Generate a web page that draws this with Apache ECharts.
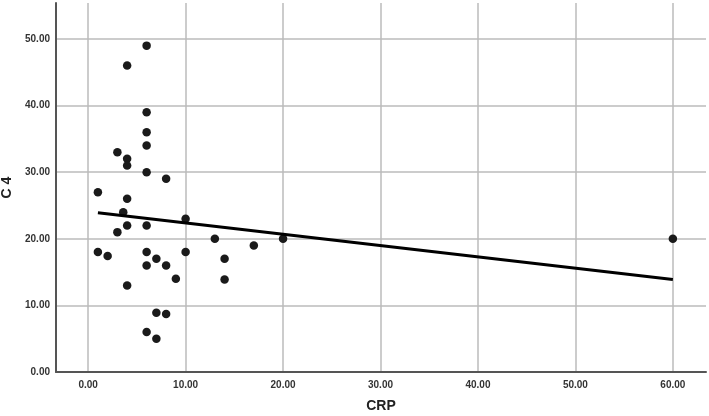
<!DOCTYPE html>
<html>
<head>
<meta charset="utf-8">
<script src="https://cdn.jsdelivr.net/npm/echarts@6/dist/echarts.min.js"></script>
<style>
  html, body { margin: 0; padding: 0; background: #fff; }
  #chart { width: 709px; height: 416px; }
</style>
</head>
<body>
<div id="chart"></div>
<script>
// CRP vs C4 values
const crp = [6, 4, 6, 6, 6, 3, 4, 4, 6, 8, 1, 4, 3.6, 10, 4, 6, 3, 13, 17, 20,
  1, 2, 6, 7, 10, 14, 6, 8, 9, 14, 4, 7, 8, 6, 7, 60]
const c4 = [49, 46, 39, 36, 34, 33, 32, 31, 30, 29, 27, 26, 24, 23, 22, 22, 21, 20, 19, 20,
  18, 17.4, 18, 17, 18, 17, 16, 16, 14, 13.9, 13, 8.9, 8.7, 6, 5, 20]
// fitted line end points
const fitX = [1, 60]
const fitY = [23.9, 13.9]
const xTicks = [0, 10, 20, 30, 40, 50, 60]
const yTicks = [0, 10, 20, 30, 40, 50]

const labelFont = '"Liberation Sans Narrow", "Liberation Sans", Arial, sans-serif'

window.onload = function () {
  const chart = echarts.init(document.getElementById('chart'))
  const points = crp.map((x, i) => [x, c4[i]])
  const fit = fitX.map((x, i) => [x, fitY[i]])

  chart.setOption({
    animation: false,
    backgroundColor: '#fff',
    grid: { left: 56, right: 3, top: 3, bottom: 44, outerBoundsMode: 'none', containLabel: false },
    xAxis: {
      type: 'value',
      min: -3.3,
      max: 63.4,
      name: 'CRP',
      nameLocation: 'middle',
      nameGap: 27,
      nameTextStyle: { fontFamily: 'Liberation Sans, Arial', fontWeight: 'bold', fontSize: 14, color: '#222' },
      axisLine: { onZero: false, lineStyle: { color: '#555', width: 2 } },
      axisTick: { show: false, customValues: xTicks },
      axisLabel: {
        customValues: xTicks,
        formatter: v => v.toFixed(2),
        fontFamily: labelFont, fontWeight: 'bold', fontSize: 10, color: '#333', margin: 8
      },
      splitLine: { show: true, lineStyle: { color: '#bbb', width: 1.5 } }
    },
    yAxis: {
      type: 'value',
      min: 0,
      max: 55.4,
      name: 'C 4',
      nameLocation: 'middle',
      nameGap: 37,
      nameRotate: 90,
      nameTextStyle: { fontFamily: 'Liberation Sans, Arial', fontWeight: 'bold', fontSize: 14, color: '#222' },
      axisLine: { show: true, onZero: false, lineStyle: { color: '#555', width: 2 } },
      axisTick: { show: false, customValues: yTicks },
      axisLabel: {
        customValues: yTicks,
        formatter: v => v.toFixed(2),
        fontFamily: labelFont, fontWeight: 'bold', fontSize: 10, color: '#333', margin: 6
      },
      splitLine: { show: true, lineStyle: { color: '#bbb', width: 1.5 } }
    },
    series: [{
      type: 'scatter',
      data: points,
      symbolSize: 8.5,
      itemStyle: { color: '#1a1a1a', opacity: 1 },
      z: 3
    }, {
      type: 'line',
      data: fit,
      symbol: 'none',
      lineStyle: { color: '#000', width: 3 },
      z: 4
    }]
  })
}
</script>
</body>
</html>
